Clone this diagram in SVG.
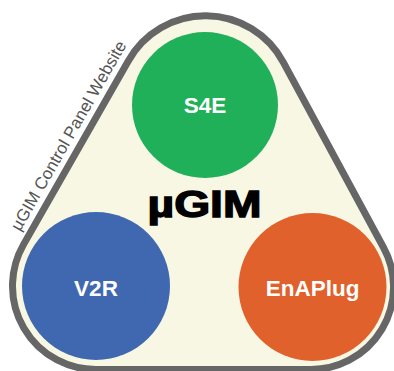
<svg xmlns="http://www.w3.org/2000/svg" width="394" height="371" viewBox="0 0 394 371">
  <style>
    .frame { fill: #f8f7e3; stroke: #666666; stroke-width: 7; }
    .node-label { font-family: "Liberation Sans", Arial, sans-serif; font-weight: bold; font-size: 22.5px; fill: #ffffff; text-anchor: middle; }
    .title { font-family: "Liberation Sans", Arial, sans-serif; font-weight: bold; font-size: 36px; fill: #000000; stroke: #000000; stroke-width: 1.3; text-anchor: middle; }
    .edge-label { font-family: "Liberation Sans", Arial, sans-serif; font-size: 17px; fill: #555555; text-anchor: middle; }
  </style>
  <rect width="394" height="371" fill="#ffffff"/>

  <!-- rounded triangular frame -->
  <g id="frame">
    <path class="frame" d="M23.47,244.63 L128.13,61.15 A88.5,88.5 0 0 1 283.5,62.6 L383.5,247.5 A82.5,82.5 0 0 1 311,369.5 L96,369.5 A83.5,83.5 0 0 1 23.47,244.63 Z"/>
    <text class="edge-label" transform="translate(73.5,138.5) rotate(-60.3)">µGIM Control Panel Website</text>
  </g>

  <g id="title">
    <text class="title" x="204.5" y="217" textLength="114" lengthAdjust="spacingAndGlyphs">µGIM</text>
  </g>

  <g id="s4e">
    <circle cx="205" cy="105" r="73" fill="#21b05a"/>
    <text class="node-label" x="205" y="112.5">S4E</text>
  </g>

  <g id="v2r">
    <circle cx="96" cy="286" r="74" fill="#3f68b0"/>
    <text class="node-label" x="96" y="296">V2R</text>
  </g>

  <g id="enaplug">
    <circle cx="312.5" cy="287" r="74" fill="#e0612b"/>
    <text class="node-label" x="312.5" y="296">EnAPlug</text>
  </g>

  <g id="connectors"></g>
</svg>
